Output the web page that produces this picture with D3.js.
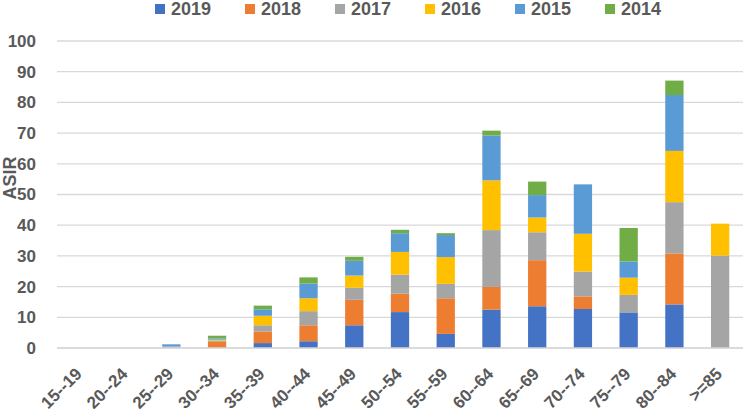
<!DOCTYPE html>
<html><head><meta charset="utf-8">
<script src="https://cdn.jsdelivr.net/npm/d3@7"></script>
<style>body{margin:0;background:#fff}svg{display:block}</style>
</head><body>
<svg id="c" width="744" height="413"></svg>
<script>
const categories = ["15--19","20--24","25--29","30--34","35--39","40--44","45--49","50--54","55--59","60--64","65--69","70--74","75--79","80--84",">=85"];
const seriesNames = ["2019","2018","2017","2016","2015","2014"];
const s2019 = [0,0,0,0,1.6,2.2,7.4,11.7,4.6,12.5,13.6,12.7,11.6,14.2,0];
const s2018 = [0,0,0,2.0,3.8,5.2,8.3,6.0,11.6,7.4,15.0,4.1,0,16.6,0];
const s2017 = [0,0,0.5,0.4,2.0,4.6,3.9,6.2,4.7,18.5,9.1,8.1,5.7,16.7,30.1];
const s2016 = [0,0,0,0.3,3.1,4.2,4.0,7.4,8.7,16.2,4.8,12.3,5.6,16.7,10.4];
const s2015 = [0,0,0.7,0.4,2.1,4.8,4.8,6.1,7.2,14.6,7.3,16.1,5.3,18.2,0];
const s2014 = [0,0,0,0.9,1.2,2.0,1.3,1.1,0.6,1.6,4.4,0,10.9,4.7,0];
const yTicks = [0,10,20,30,40,50,60,70,80,90,100];
const colors = ["#4472C4","#ED7D31","#A5A5A5","#FFC000","#5B9BD5","#70AD47"];
const yTitle = "ASIR";

const seriesVals = [s2019,s2018,s2017,s2016,s2015,s2014];
const rows = categories.map((c,i)=>{const o={cat:c};seriesNames.forEach((n,j)=>o[n]=seriesVals[j][i]);return o;});
const stacked = d3.stack().keys(seriesNames)(rows);

const svg = d3.select("#c");
const textCol = "#595959";
const font = "'Liberation Sans', Arial, sans-serif";

const x = d3.scaleBand().domain(categories).range([57,743]).paddingInner(0.6).paddingOuter(0.3);
const y = d3.scaleLinear().domain([0,100]).range([348,41]);

// gridlines
svg.append("g").selectAll("line").data(yTicks).join("line")
  .attr("x1",57).attr("x2",743).attr("y1",d=>y(d)).attr("y2",d=>y(d))
  .attr("stroke","#D9D9D9").attr("stroke-width",1.3);

// y axis labels
const yAxis = d3.axisLeft(y).tickValues(yTicks).tickSize(0).tickPadding(0);
const gy = svg.append("g").attr("transform","translate(36,0)").call(yAxis);
gy.select(".domain").remove();
gy.selectAll("text").attr("font-family",font).attr("font-size",17).attr("font-weight","bold").attr("fill",textCol);

// bars
svg.append("g").selectAll("g").data(stacked).join("g")
  .attr("fill",(d,i)=>colors[i])
  .selectAll("rect").data(d=>d).join("rect")
  .attr("x",d=>x(d.data.cat)).attr("width",x.bandwidth())
  .attr("y",d=>y(d[1])).attr("height",d=>Math.max(0,y(d[0])-y(d[1])));

// x axis line
svg.append("line").attr("x1",57).attr("x2",743).attr("y1",y(0)).attr("y2",y(0)).attr("stroke","#D9D9D9").attr("stroke-width",1.3);

// x labels
const xAxis = d3.axisBottom(x).tickSize(0);
const gx = svg.append("g").attr("transform","translate(0,348)").call(xAxis);
gx.select(".domain").remove();
gx.selectAll("text")
  .attr("font-family",font).attr("font-size",17).attr("font-weight","bold").attr("fill",textCol)
  .attr("text-anchor","end").attr("dy",null).attr("y",0)
  .attr("transform","translate(3,27) rotate(-45)");

// y title
svg.append("text").attr("transform","translate(16,178) rotate(-90)")
  .attr("text-anchor","middle").attr("font-family",font).attr("font-size",18).attr("font-weight","bold").attr("fill",textCol).text(yTitle);

// legend
const lg = svg.append("g").selectAll("g").data(seriesNames).join("g")
  .attr("transform",(d,i)=>`translate(${155+i*90},0)`);
lg.append("rect").attr("x",0).attr("y",4).attr("width",10).attr("height",10).attr("fill",(d,i)=>colors[i]);
lg.append("text").attr("x",16).attr("y",15).attr("font-family",font).attr("font-size",18).attr("font-weight","bold").attr("fill",textCol).text(d=>d);
</script>
</body></html>
